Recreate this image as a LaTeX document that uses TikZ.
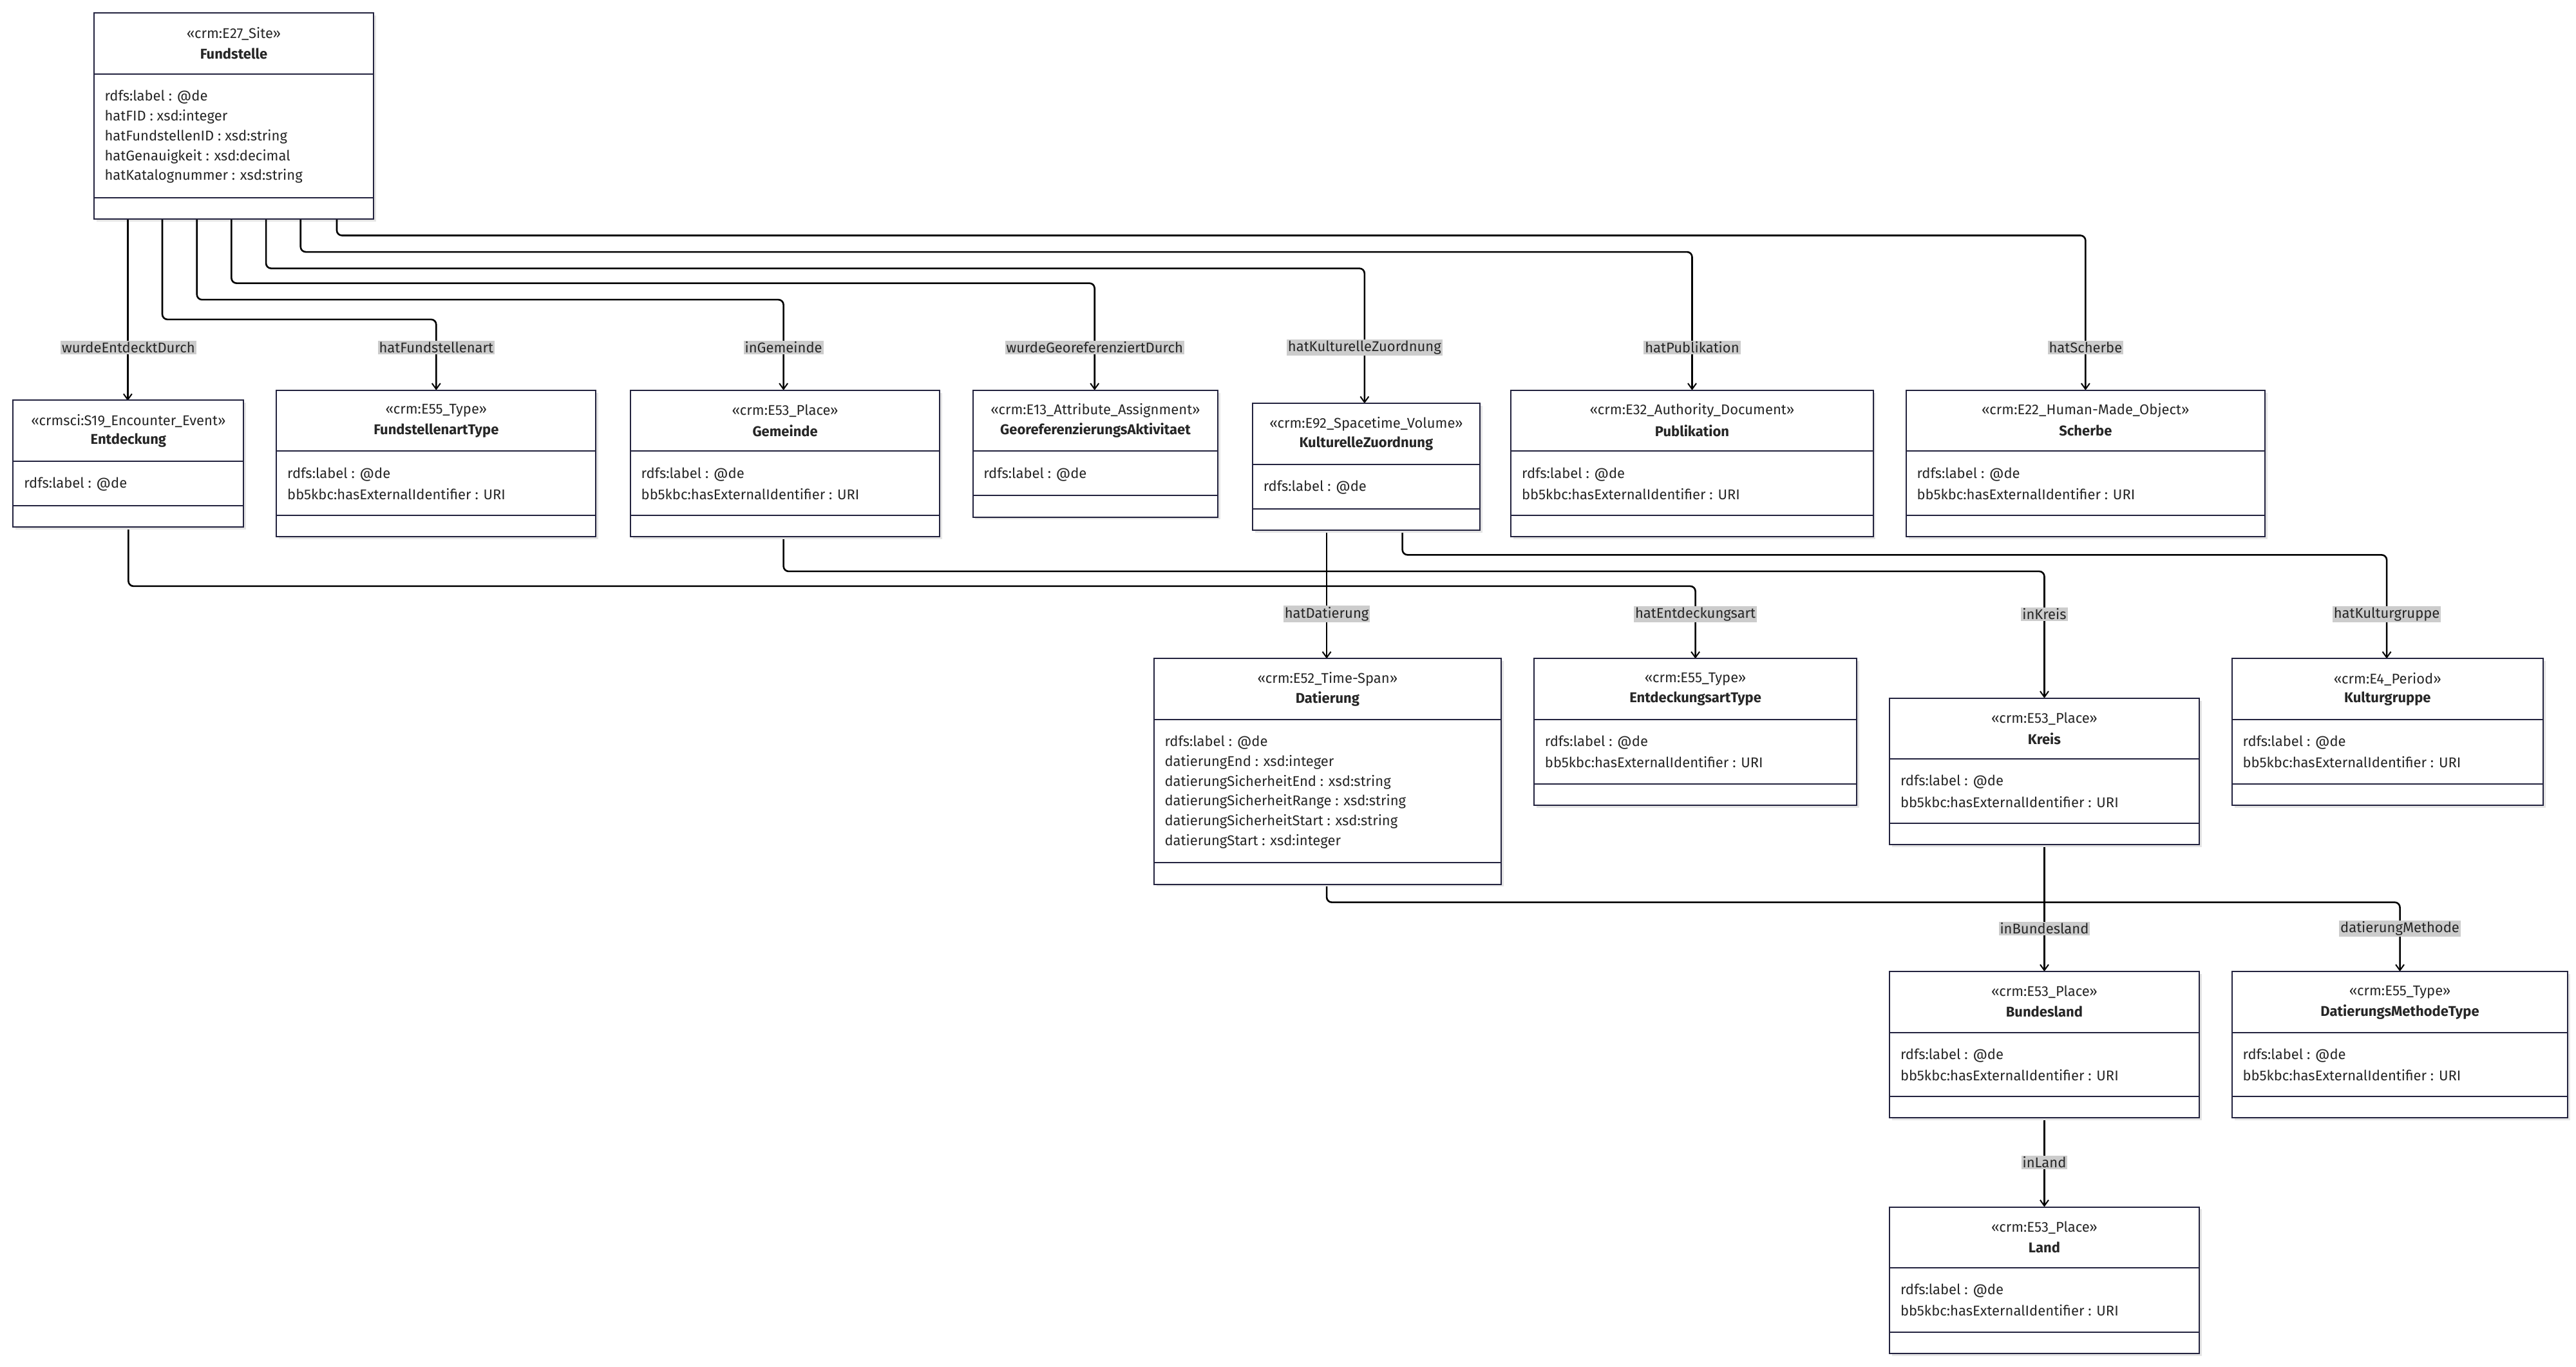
\documentclass[tikz,border=0pt]{standalone}
\usepackage{fontspec}
\setmainfont{Fira Sans}
\usetikzlibrary{fit,calc,arrows.meta}
\definecolor{bord}{HTML}{23233F}
\newcommand\umlbox[9]{%
  \fill[black!10] (#2+1.5,#3+1.5) rectangle (#4+1.5,#5+1.5);
  \node[fit={(#2,#3)(#4,#5)},inner sep=0pt,draw=bord,line width=2pt,fill=white] (#1) {};
  \draw[bord,line width=2pt] (#2,#6) -- (#4,#6) (#2,#7) -- (#4,#7);
  \node[txt] (#1-s) at ({(#2+#4)/2},#3+12.5) {«#8»};
  \node[txt,font=\fontsize{22}{26}\selectfont\bfseries] (#1-t) at ({(#2+#4)/2},#3+24.5) {#9};
}
\newcommand\attrs[4]{%
  \foreach \a [count=\i] in {#4} {\node[txt,anchor=west] (#1-a\i) at (#2+6.5,#3+2+12*\i) {\a};}
}
\tikzset{
  x=2.556pt,y=-2.556pt,
  txt/.style={inner sep=0pt,font=\fontsize{22}{26}\selectfont,text=black!85},
  edge/.style={line width=2.6pt,rounded corners=8pt,-{Straight Barb[length=9pt,width=13pt,line width=2pt]}},
  lbl/.style={fill=black!20,inner sep=2pt,font=\fontsize{22}{26}\selectfont,text=black!85},
}
\begin{document}
\begin{tikzpicture}
\useasboundingbox (0,0) rectangle (1565,830);
\fill[white] (0,0) rectangle (1565,830);
% edges first
\umlbox{F}{57}{8}{227}{133}{45}{120}{crm:E27\_Site}{Fundstelle}
\attrs{F}{57}{45}{rdfs:label : @de,hatFID : xsd:integer,hatFundstellenID : xsd:string,hatGenauigkeit : xsd:decimal,hatKatalognummer : xsd:string}
\coordinate (n1) at (78,243); \coordinate (n2) at (265,237);
% boxes
\begin{scope}
\draw[edge] ($(F.south west)+(21,0)$) -- ($(F.south west)+(21,110)$);
\draw[edge] ($(F.south west)+(42,0)$) |- (265,194) -- (265,237);
\draw[edge] ($(F.south west)+(63,0)$) |- (476,182) -- (476,237);
\draw[edge] ($(F.south west)+(84,0)$) |- (665,172) -- (665,237);
\draw[edge] ($(F.south west)+(105,0)$) |- (829,163) -- (829,245);
\draw[edge] ($(F.south west)+(126,0)$) |- (1028,153) -- (1028,237);
\draw[edge] ($(F.south west)+(148,0)$) |- (1267,143) -- (1267,237);
\draw[edge] (78,320) |- (1030,356) -- (1030,400);
\draw[edge] (476,326) |- (1242,347) -- (1242,424);
\draw[edge] (806,322) -- (806,400);
\draw[edge] (852,322) |- (1450,337) -- (1450,400);
\draw[edge] (1242,513) -- (1242,590);
\draw[edge] (806,537) |- (1458,548) -- (1458,590);
\draw[edge] (1242,679) -- (1242,733);
\end{scope}
\umlbox{E}{8}{243}{148}{320}{280}{307}{crmsci:S19\_Encounter\_Event}{Entdeckung}
\attrs{E}{8}{280}{rdfs:label : @de}
\umlbox{FA}{168}{237}{362}{326}{274}{313}{crm:E55\_Type}{FundstellenartType}
\attrs{FA}{168}{274}{rdfs:label : @de,bb5kbc:hasExternalIdentifier : URI}
\umlbox{G}{383}{237}{571}{326}{274}{313}{crm:E53\_Place}{Gemeinde}
\attrs{G}{383}{274}{rdfs:label : @de,bb5kbc:hasExternalIdentifier : URI}
\umlbox{GA}{591}{237}{740}{314}{274}{301}{crm:E13\_Attribute\_Assignment}{GeoreferenzierungsAktivitaet}
\attrs{GA}{591}{274}{rdfs:label : @de}
\umlbox{K}{761}{245}{899}{322}{282}{309}{crm:E92\_Spacetime\_Volume}{KulturelleZuordnung}
\attrs{K}{761}{282}{rdfs:label : @de}
\umlbox{P}{918}{237}{1138}{326}{274}{313}{crm:E32\_Authority\_Document}{Publikation}
\attrs{P}{918}{274}{rdfs:label : @de,bb5kbc:hasExternalIdentifier : URI}
\umlbox{S}{1158}{237}{1376}{326}{274}{313}{crm:E22\_Human-Made\_Object}{Scherbe}
\attrs{S}{1158}{274}{rdfs:label : @de,bb5kbc:hasExternalIdentifier : URI}
\umlbox{D}{701}{400}{912}{537}{437}{524}{crm:E52\_Time-Span}{Datierung}
\attrs{D}{701}{437}{rdfs:label : @de,datierungEnd : xsd:integer,datierungSicherheitEnd : xsd:string,datierungSicherheitRange : xsd:string,datierungSicherheitStart : xsd:string,datierungStart : xsd:integer}
\umlbox{EA}{932}{400}{1128}{489}{437}{476}{crm:E55\_Type}{EntdeckungsartType}
\attrs{EA}{932}{437}{rdfs:label : @de,bb5kbc:hasExternalIdentifier : URI}
\umlbox{KR}{1148}{424}{1336}{513}{461}{500}{crm:E53\_Place}{Kreis}
\attrs{KR}{1148}{461}{rdfs:label : @de,bb5kbc:hasExternalIdentifier : URI}
\umlbox{KG}{1356}{400}{1545}{489}{437}{476}{crm:E4\_Period}{Kulturgruppe}
\attrs{KG}{1356}{437}{rdfs:label : @de,bb5kbc:hasExternalIdentifier : URI}
\umlbox{B}{1148}{590}{1336}{679}{627}{666}{crm:E53\_Place}{Bundesland}
\attrs{B}{1148}{627}{rdfs:label : @de,bb5kbc:hasExternalIdentifier : URI}
\umlbox{DM}{1356}{590}{1560}{679}{627}{666}{crm:E55\_Type}{DatierungsMethodeType}
\attrs{DM}{1356}{627}{rdfs:label : @de,bb5kbc:hasExternalIdentifier : URI}
\umlbox{L}{1148}{733}{1336}{822}{770}{809}{crm:E53\_Place}{Land}
\attrs{L}{1148}{770}{rdfs:label : @de,bb5kbc:hasExternalIdentifier : URI}
% labels
\node[lbl] (l1) at (78,211) {wurdeEntdecktDurch};
\node[lbl] (l2) at (265,211) {hatFundstellenart};
\node[lbl] (l3) at (476,211) {inGemeinde};
\node[lbl] (l4) at (665,211) {wurdeGeoreferenziertDurch};
\node[lbl] (l5) at (829,211) {hatKulturelleZuordnung};
\node[lbl] (l6) at (1028,211) {hatPublikation};
\node[lbl] (l7) at (1267,211) {hatScherbe};
\node[lbl] (l8) at (806,373) {hatDatierung};
\node[lbl] (l9) at (1030,373) {hatEntdeckungsart};
\node[lbl] (l10) at (1242,373) {inKreis};
\node[lbl] (l11) at (1450,373) {hatKulturgruppe};
\node[lbl] (l12) at (1242,564) {inBundesland};
\node[lbl] (l13) at (1458,564) {datierungMethode};
\node[lbl] (l14) at (1242,706) {inLand};
\end{tikzpicture}
\end{document}
